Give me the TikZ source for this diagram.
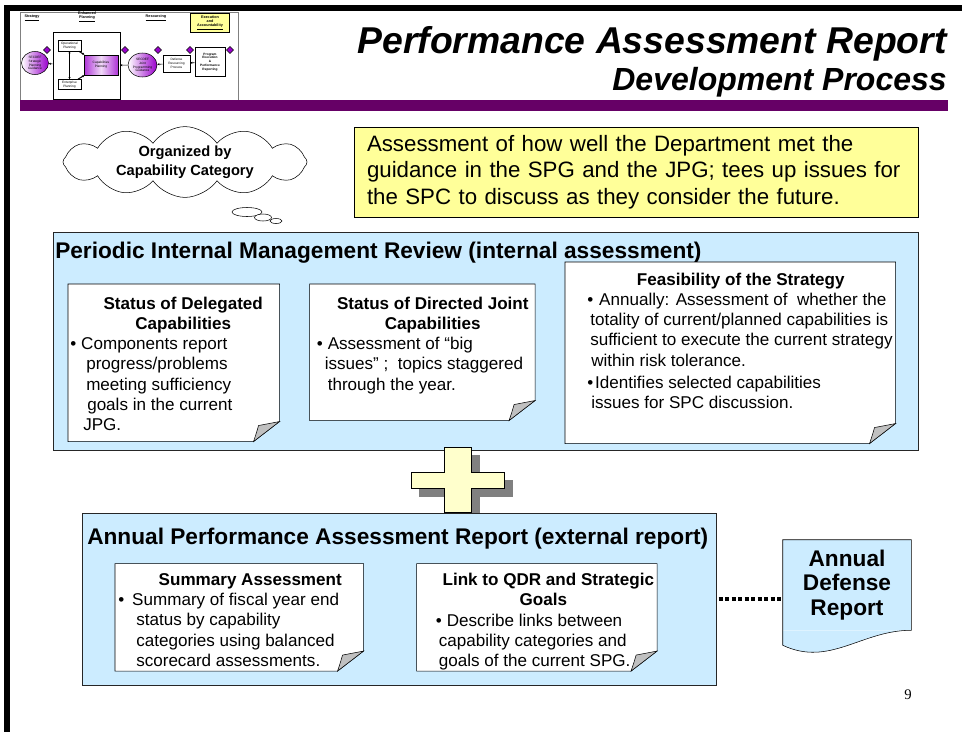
\documentclass[tikz,border=0pt]{standalone}
\usepackage{fontspec}
\setmainfont{Liberation Sans}
\newfontfamily\pagenofont{Liberation Serif}
\usetikzlibrary{positioning, shapes.geometric, shapes.symbols, arrows.meta, calc}

\newdimen\px
\px=0.75pt

\definecolor{paleblue}{HTML}{CCECFF}
\definecolor{paleyellow}{HTML}{FFFF99}
\definecolor{crossyellow}{HTML}{FFFFCC}
\definecolor{plumbar}{HTML}{660066}
\definecolor{gemviolet}{HTML}{9900CC}
\definecolor{curlgray}{HTML}{C0C0C0}
\definecolor{shadowgray}{HTML}{808080}

\tikzset{
	page/.style={rectangle, fill=white, inner sep=0pt, anchor=north west},
	notetext/.style={inner sep=0pt, align=left, font=\fontsize{12.8}{15.2}\selectfont},
	container/.style={rectangle, draw=black!85, fill=paleblue, inner sep=0pt, anchor=north west},
	boxtitle/.style={inner sep=0pt, anchor=north west, font=\fontsize{17}{20}\selectfont\bfseries},
	bubble/.style={ellipse, draw, fill=white, inner sep=0pt},
	thumbbox/.style={rectangle, draw, fill=white, inner sep=0pt, align=center, font=\fontsize{2.4}{2.9}\selectfont},
	thumboval/.style={ellipse, draw, left color=white, right color=gemviolet, inner sep=0pt, align=center, font=\fontsize{2.4}{2.9}\selectfont},
	thumblabel/.style={inner sep=0pt, align=center, font=\fontsize{2.8}{3.2}\selectfont\bfseries},
	gem/.style={diamond, draw=black, fill=gemviolet, inner sep=0pt, minimum size=7\px},
	tharrow/.style={-{Stealth[length=1.6pt, width=1.6pt]}, line width=0.45pt},
	dotline/.style={line width=4\px, dash pattern=on 4\px off 2.5\px}
}

% page outline with a curled bottom-right corner
\newcommand{\pagecurl}[1]{%
	\fill[paleblue] ($(#1.south east)+(-26,0)$) -- (#1.south east) -- ($(#1.south east)+(0,-20)$) -- cycle;
	\draw (#1.north west) -- (#1.north east) -- ($(#1.south east)+(0,-20)$)
		-- ($(#1.south east)+(-26,0)$) -- (#1.south west) -- cycle;
	\filldraw[fill=curlgray] ($(#1.south east)+(-26,0)$) .. controls ($(#1.south east)+(-23,-9)$) .. ($(#1.south east)+(-21,-16)$)
		-- ($(#1.south east)+(0,-20)$) -- cycle;
}
\newcommand{\notehead}[2]{\makebox[#1][c]{\bfseries #2}}

\begin{document}
\begin{tikzpicture}[x=0.75pt, y=-0.75pt]
	\useasboundingbox (0,0) rectangle (962,732);
	
	% slide thumbnail
	\draw[gray, fill=white] (20,12) rectangle (238,100);
	\node[thumblabel] (tstrat) at (32,18) {\underline{Strategy}};
	\node[thumblabel] (tplan) at (87,17) {Enhanced\\\underline{Planning}};
	\node[thumblabel] (tres) at (156,18) {\underline{Resourcing}};
	\node[thumblabel, draw, fill=paleyellow, minimum width=39\px, minimum height=19\px] (texec) at (210,23) {Execution\\and\\\underline{Accountability}};
	\node[thumbbox, minimum width=67\px, minimum height=67\px] (tenh) at (86.5,65.5) {};
	\node[thumboval, minimum width=27\px, minimum height=23\px] (tspg) at (35,63) {SECDEF\\Strategic\\Planning\\Guidance};
	\node[thumbbox, minimum width=23\px, minimum height=11\px] (toper) at (69.5,45.5) {Operational\\Planning};
	\node[thumbbox, minimum width=23\px, minimum height=10\px] (tentp) at (69.5,84.5) {Enterprise\\Planning};
	\node[thumbbox, left color=gemviolet!80, right color=gemviolet!80, middle color=gemviolet!15, minimum width=34\px, minimum height=20\px] (tcap) at (101,65) {Capabilities\\Planning};
	\node[thumboval, minimum width=29\px, minimum height=24\px] (tjpg) at (142.5,65) {SECDEF\\Joint\\Programming\\Guidance};
	\node[thumbbox, minimum width=27\px, minimum height=17\px] (tdrp) at (176.5,63.5) {Defense\\Resourcing\\Process};
	\node[thumbbox, line width=1\px, minimum width=30\px, minimum height=29\px, font=\fontsize{2.4}{2.9}\selectfont\bfseries] (tpex) at (210,62) {Program\\Execution\\\&\\Performance\\Reporting};
	\foreach \gx/\gn in {47/gema, 125/gemb, 158/gemc, 190/gemd, 230/geme}
		\node[gem] (\gn) at (\gx,50) {};
	\draw[tharrow] (tenh) -- (tspg);
	\draw[tharrow] (tjpg) -- (tenh);
	\draw[tharrow] (tdrp) -- (tjpg);
	\draw[tharrow] (tpex) -- (tdrp);
	\draw[tharrow, line width=0.75pt] (toper) -- (tcap);
	\draw[tharrow, line width=0.75pt] (tentp) -- (tcap);
	\draw[{Stealth[length=1.6pt, width=1.6pt]}-{Stealth[length=1.6pt, width=1.6pt]}, line width=0.6pt] (toper) -- (tentp);
	\fill[plumbar] (20,100) rectangle (948,111);
	
	% title
	\node[anchor=base east, inner sep=0pt, font=\fontsize{28}{32}\selectfont\bfseries\itshape] (title) at (947,53) {Performance Assessment Report};
	\node[anchor=base east, inner sep=0pt, font=\fontsize{24}{28}\selectfont\bfseries\itshape] (subtitle) at (947,90) {Development Process};
	
	% thought cloud and purpose
	\node[cloud, draw, fill=white, cloud puffs=12, cloud puff arc=110, aspect=4.3, inner sep=0pt, minimum width=244\px, minimum height=56\px, align=center, font=\fontsize{11}{14}\selectfont\bfseries] (org) at (185,162) {Organized by\\Capability Category};
	\node[bubble, minimum width=30\px, minimum height=9\px] (bubblea) at (247,212) {};
	\node[bubble, minimum width=17\px, minimum height=7\px] (bubbleb) at (263,217.5) {};
	\node[bubble, minimum width=12\px, minimum height=5\px] (bubblec) at (276,221) {};
	\node[draw, fill=paleyellow, minimum width=564\px, minimum height=90\px, text width=538\px, align=left, inner sep=0pt, font=\fontsize{16.7}{20}\selectfont] (aim) at (636,172) {Assessment of how well the Department met the\\ guidance in the SPG and the JPG; tees up issues for\\ the SPC to discuss as they consider the future.};
	
	% internal review
	\node[container, minimum width=865\px, minimum height=218\px] (review) at (53,232) {};
	\node[boxtitle, below right=9.5\px and 2\px of review.north west] (reviewtitle) {Periodic Internal Management Review (internal assessment)};
	
	\node[page, minimum width=211\px, minimum height=157\px, below right=52\px and 15\px of review.north west] (deleg) {};
	\pagecurl{deleg}
	\node[notetext, below right=12.5\px and 2\px of deleg.north west] (delegtext) {\notehead{226\px}{Status of Delegated}\\
		\notehead{226\px}{Capabilities}\\
		•\hspace{5\px}Components report\\
		\hspace*{16\px}progress/problems\\
		\hspace*{16\px}meeting sufficiency\\
		\hspace*{17\px}goals in the current\\
		\hspace*{13\px}JPG.};
	
	\node[page, minimum width=225\px, minimum height=136\px, below right=0\px and 30\px of deleg.north east] (joint) {};
	\pagecurl{joint}
	\node[notetext, below right=12.5\px and 7\px of joint.north west] (jointtext) {\notehead{232\px}{Status of Directed Joint}\\
		\notehead{232\px}{Capabilities}\\
		•\hspace{5\px}Assessment of “big\\
		\hspace*{8\px}issues” ;\ \ topics staggered\\
		\hspace*{11\px}through the year.};
	
	\node[page, minimum width=330\px, minimum height=181\px, below right=30\px and 512\px of review.north west] (feas) {};
	\pagecurl{feas}
	\node[notetext, below right=10.5\px and 22\px of feas.north west] (feastext) {\notehead{307\px}{Feasibility of the Strategy}\\
		•\hspace{6\px}Annually: Assessment of\ \ whether the\\
		\hspace*{3\px}totality of current/planned capabilities is\\
		\hspace*{3\px}sufficient to execute the current strategy\\
		\hspace*{4\px}within risk tolerance.\\[2\px]
		•\hspace{2\px}Identifies selected capabilities\\
		\hspace*{4\px}issues for SPC discussion.};
	
	% plus sign
	\coordinate (plus) at (457.5,480);
	\foreach \dd/\fc/\dc in {8/shadowgray/shadowgray, 0/crossyellow/black}
		\filldraw[fill=\fc, draw=\dc] ($(plus)+(\dd-13.5,\dd-32.5)$) -- ++(27,0) -- ++(0,24.5) -- ++(33,0) -- ++(0,16) -- ++(-33,0) -- ++(0,24.5) -- ++(-27,0) -- ++(0,-24.5) -- ++(-33,0) -- ++(0,-16) -- ++(33,0) -- cycle;
	
	% external report
	\node[container, minimum width=634\px, minimum height=172\px, below right=62\px and 29\px of review.south west] (annual) {};
	\node[boxtitle, below right=15.5\px and 5\px of annual.north west] (annualtitle) {Annual Performance Assessment Report (external report)};
	
	\node[page, minimum width=248\px, minimum height=107\px, below right=51\px and 33\px of annual.north west] (summ) {};
	\pagecurl{summ}
	\node[notetext, below right=9.5\px and 3\px of summ.north west] (summtext) {\notehead{264\px}{Summary Assessment}\\
		•\hspace{8\px}Summary of fiscal year end\\
		\hspace*{18\px}status by capability\\
		\hspace*{18\px}categories using balanced\\
		\hspace*{18\px}scorecard assessments.};
	
	\node[page, minimum width=240\px, minimum height=107\px, below right=0\px and 53\px of summ.north east] (link) {};
	\pagecurl{link}
	\node[notetext, below right=9.5\px and 19\px of link.north west] (linktext) {\notehead{225\px}{Link to QDR and Strategic}\\
		\notehead{215\px}{Goals}\\
		•\hspace{5\px}Describe links between\\
		\hspace*{3\px}capability categories and\\
		\hspace*{3\px}goals of the current SPG.};
	
	% annual defense report
	\node[fill=paleblue, inner sep=0pt, minimum width=128\px, minimum height=90\px, align=center, font=\fontsize{17}{18.4}\selectfont\bfseries] (adr) at (847,585) {Annual\\Defense\\Report};
	\fill[paleblue] (adr.south west) -- (adr.south east) .. controls +(-50,0) and +(47,22) .. ($(adr.south west)+(0,15)$) -- cycle;
	\draw (adr.north west) -- (adr.north east) -- (adr.south east) .. controls +(-50,0) and +(47,22) .. ($(adr.south west)+(0,15)$) -- cycle;
	\draw[dotline] ([xshift=2\px]annual.east) -- (annual.east -| adr.west);
	
	\node[font=\pagenofont\fontsize{11}{13}\selectfont] (pageno) at (908,695) {9};
	
	% slide frame
	\fill (4,5) rectangle (962,11);
	\fill (4,5) rectangle (10,732);
\end{tikzpicture}
\end{document}
